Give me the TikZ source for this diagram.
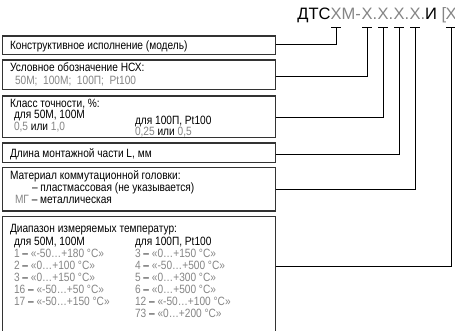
\documentclass[tikz,border=0pt]{standalone}
\usepackage{fontspec}
\setmainfont{Liberation Sans}
\newfontfamily\codefont{Liberation Sans}
\newfontfamily\txtfont[FakeStretch=0.845]{Liberation Sans}
\definecolor{valgray}{HTML}{858585}
\definecolor{boxline}{HTML}{333333}
\newcommand{\gv}[1]{\textcolor{valgray}{#1}}
\begin{document}
\begin{tikzpicture}[x=1pt,y=-1pt,
  box/.style={draw=boxline,line width=1.3pt,inner sep=0pt,outer sep=0pt,minimum width=272.8pt,anchor=north west},
  txt/.style={font=\txtfont\fontsize{12}{13}\selectfont,inner sep=0pt,outer sep=0pt,anchor=base west},
  code/.style={font=\codefont\fontsize{16.5}{18}\selectfont,inner sep=0pt,outer sep=0pt},
  conn/.style={draw=black,line width=0.9pt},
  g/.style={text=valgray}]
\useasboundingbox (0,0) rectangle (455,331);
% code line
\node[code,g,anchor=base] (x1) at (336,20) {Х};
\node[code,anchor=base east] (dts) at (x1.base west) {ДТС};
\node[code,g,anchor=base west] (m) at (x1.base east) {М-};
\node[code,g,anchor=base] (x2) at (367,20) {Х};
\node[code,g,anchor=base west] (p2) at (x2.base east) {.};
\node[code,g,anchor=base] (x3) at (383,20) {Х};
\node[code,g,anchor=base west] (p3) at (x3.base east) {.};
\node[code,g,anchor=base] (x4) at (399,20) {Х};
\node[code,g,anchor=base west] (p4) at (x4.base east) {.};
\node[code,g,anchor=base] (x5) at (415,20) {Х};
\node[code,anchor=base west] (p5) at (x5.base east) {\gv{.}И\ \gv{[}};
\node[code,g,anchor=base] (x6) at (451,20) {Х};
% tick coordinates
\coordinate (tk) at (0,27.5);
\foreach \i in {1,...,6}{\coordinate (t\i) at (x\i.base |- tk);}
% boxes
\node[box,minimum height=18.5pt] (b1) at (2.7,36) {};
\node[box,minimum height=29.5pt] (b2) at (2.7,60) {};
\node[box,minimum height=41.5pt] (b3) at (2.7,96) {};
\node[box,minimum height=19.5pt] (b4) at (2.7,143) {};
\node[box,minimum height=43.5pt] (b5) at (2.7,167.5) {};
\node[box,minimum height=140pt] (b6) at (2.7,216.5) {};
% texts
\node[txt] (l1) at (10,49.5) {Конструктивное исполнение (модель)};
\node[txt] (l2a) at (10,72) {Условное обозначение НСХ:};
\node[txt,g] (l2b) at (15,84.3) {50М;\ \ 100М;\ \ 100П;\ \ Pt100};
\node[txt] (l3a) at (10,108) {Класс точности, \%:};
\node[txt] (l3b) at (14,118.8) {для 50М, 100М};
\node[txt] (l3c) at (14,130.6) {\gv{0,5} или \gv{1,0}};
\node[txt] (l3d) at (135,124.4) {для 100П, Pt100};
\node[txt] (l3e) at (135,135.6) {\gv{0,25} или \gv{0,5}};
\node[txt] (l4) at (10,157.5) {Длина монтажной части L, мм};
\node[txt] (l5a) at (10,179.6) {Материал коммутационной головки:};
\node[txt] (l5b) at (32,191.8) {– пластмассовая (не указывается)};
\node[txt] (l5c) at (15,204) {\gv{МГ} – металлическая};
\node[txt] (l6) at (10,233) {Диапазон измеряемых температур:};
\node[txt] (la0) at (14,245) {для 50М, 100М};
\node[txt] (la1) at (14,257) {\gv{1} – \gv{«-50…+180 °C»}};
\node[txt] (la2) at (14,269) {\gv{2} – \gv{«0…+100 °C»}};
\node[txt] (la3) at (14,281) {\gv{3} – \gv{«0…+150 °C»}};
\node[txt] (la4) at (14,293) {\gv{16} – \gv{«-50…+50 °C»}};
\node[txt] (la5) at (14,305) {\gv{17} – \gv{«-50…+150 °C»}};
\node[txt] (lb0) at (135,245) {для 100П, Pt100};
\node[txt] (lb1) at (135,257) {\gv{3} – \gv{«0…+150 °C»}};
\node[txt] (lb2) at (135,269) {\gv{4} – \gv{«-50…+500 °C»}};
\node[txt] (lb3) at (135,281) {\gv{5} – \gv{«0…+300 °C»}};
\node[txt] (lb4) at (135,293) {\gv{6} – \gv{«0…+500 °C»}};
\node[txt] (lb5) at (135,305) {\gv{12} – \gv{«-50…+100 °C»}};
\node[txt] (lb6) at (135,317) {\gv{73} – \gv{«0…+200 °C»}};
% ticks
\foreach \i in {1,...,6}{\draw[conn] (t\i) ++(-5,0) -- ++(10,0);}
% connectors
\coordinate (k1) at (0,44.5);
\coordinate (k2) at (0,76);
\coordinate (k3) at (0,117);
\coordinate (k4) at (0,154);
\coordinate (k5) at (0,189);
\coordinate (k6) at (0,266.7);
\draw[conn] (b1.east |- k1) -| (t1);
\draw[conn] (b2.east |- k2) -| (t2);
\draw[conn] (b3.east |- k3) -| (t3);
\draw[conn] (b4.east |- k4) -| (t4);
\draw[conn] (b5.east |- k5) -| (t5);
\draw[conn] (b6.east |- k6) -| (t6);
\end{tikzpicture}
\end{document}
